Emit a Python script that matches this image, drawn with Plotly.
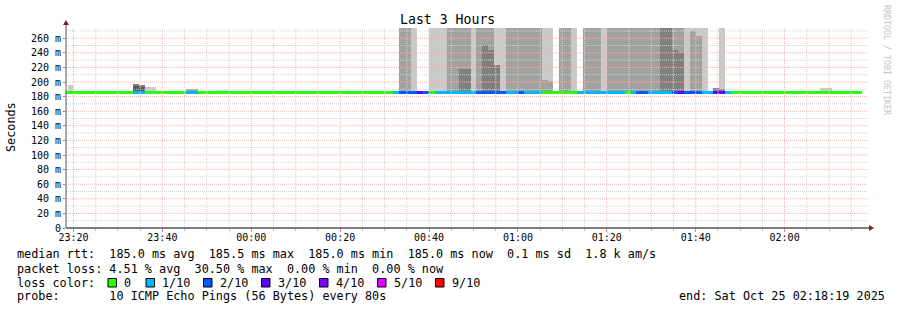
import plotly.graph_objects as go
import pandas as pd

# ---------------- data ----------------
# step index k = number of 80 s RRD steps after 2025-10-25 00:00:00 (step k covers [t_k, t_k + 80 s])
DAY0 = pd.Timestamp("2025-10-25 00:00:00")
STEP_SECONDS = 80
X_START = pd.Timestamp("2025-10-24 23:18:19")
X_END = pd.Timestamp("2025-10-25 02:18:19")

TITLE = "Last 3 Hours"
Y_LABEL = "Seconds"
Y_MAX = 274.0
Y_TICKS = [0, 20, 40, 60, 80, 100, 120, 140, 160, 180, 200, 220, 240, 260]
Y_TICK_TEXT = ["0", "20 m", "40 m", "60 m", "80 m", "100 m", "120 m", "140 m",
               "160 m", "180 m", "200 m", "220 m", "240 m", "260 m"]

MEDIAN_MS = 185.0
SMOKE_BASE_MS = 185.0
FULL = 300.0  # smoke column that reaches past the top of the chart

# loss (pings lost out of 10) per step, steps k = -32 ... 102
LOSS_FIRST_STEP = -32
LOSS = [
    0, 0, 0, 0, 0, 0, 0, 0, 0, 0, 0, 0,            # -32 .. -21
    1, 1,                                          # -20 .. -19
    0, 0, 0, 0, 0, 0, 0,                           # -18 .. -12
    1, 1,                                          # -11 .. -10
    0, 0, 0, 0, 0, 0, 0, 0, 0, 0, 0,               # -9 .. 1
    0, 0, 0, 0, 0, 0, 0, 0, 0, 0, 0,               # 2 .. 12
    0, 0, 0, 0, 0, 0, 0, 0, 0, 0, 0,               # 13 .. 23
    1, 2, 2, 2, 3, 2, 0,                           # 24 .. 30
    1, 1, 1, 1, 1, 1, 1,                           # 31 .. 37
    2, 2, 2, 2, 2,                                 # 38 .. 42
    1, 1, 2, 1, 1, 1,                              # 43 .. 48
    0, 0, 0, 0, 0, 0,                              # 49 .. 54
    1, 1, 1, 1, 1, 1, 1, 1,                        # 55 .. 62
    0, 1, 2, 2, 1, 1, 1, 1, 2, 3, 2, 2, 2, 1, 1, 3, 3, 1,   # 63 .. 80
    0, 0, 0, 0, 0, 0, 0, 0, 0, 0, 0,               # 81 .. 91
    0, 0, 0, 0, 0, 0, 0, 0, 0, 0, 0,               # 92 .. 102
]

# smoke layers (step index, top of layer in ms)
SMOKE_LIGHTEST_STEPS = [-6, -5]
SMOKE_LIGHTEST_TOPS = [189.5, 189.5]
SMOKE_LIGHT_STEPS = [-31, -18, -17, 27, 30, 31, 32, 37, 41, 42, 49, 50, 54, 59,
                     73, 74, 75, 76, 79, 96, 97]
SMOKE_LIGHT_TOPS = [195.5, 193.0, 193.0, FULL, FULL, FULL, FULL, FULL, FULL, FULL,
                    FULL, FULL, FULL, FULL, FULL, FULL, FULL, FULL, FULL, 192.0, 192.0]
SMOKE_MID_STEPS = [-11, -10, 25, 26, 33, 34, 35, 36, 38, 39, 40, 43, 44, 45, 46, 47, 48,
                   49, 50, 52, 53, 56, 57, 58, 60, 61, 62, 63, 64, 65, 66, 67, 68,
                   71, 72, 74, 75]
SMOKE_MID_TOPS = [191.0, 191.0, FULL, FULL, FULL, FULL, FULL, FULL, FULL, FULL, FULL,
                  FULL, FULL, FULL, FULL, FULL, FULL, 203.0, 201.5, FULL, FULL,
                  FULL, FULL, FULL, FULL, FULL, FULL, FULL, FULL, FULL, FULL, FULL, FULL,
                  FULL, FULL, 270.0, 263.0]
SMOKE_DARK_STEPS = [-20, -19, 35, 36, 39, 40, 41, 69, 70, 71, 72, 78, 79]
SMOKE_DARK_TOPS = [197.7, 196.0, 218.0, 218.0, 251.0, 244.0, 223.5, FULL, FULL,
                   244.0, 239.5, 192.0, 191.0]
SMOKE_DARKEST_STEPS = [-20, -19]
SMOKE_DARKEST_TOPS = [194.5, 193.0]

LOSS_LABELS = ["0", "1/10", "2/10", "3/10", "4/10", "5/10", "9/10"]
LOSS_LEVELS = [0, 1, 2, 3, 4, 5, 9]
LOSS_COLORS = ["#26ff00", "#00b8ff", "#0059ff", "#5e00ff", "#7e00ff", "#dd00ff", "#ff0000"]

STATS_RTT = "median rtt:  185.0 ms avg  185.5 ms max  185.0 ms min  185.0 ms now  0.1 ms sd  1.8 k am/s"
STATS_LOSS = "packet loss: 4.51 % avg  30.50 % max  0.00 % min  0.00 % now"
LEGEND_HEAD = "loss color:"
PROBE_TEXT = "probe:       10 ICMP Echo Pings (56 Bytes) every 80s"
END_TEXT = "end: Sat Oct 25 02:18:19 2025"
WATERMARK = "RRDTOOL / TOBI OETIKER"

# ---------------- styling / layout constants ----------------
W, H = 897, 310
PL, PR, PT, PB = 66, 866, 28, 228       # plot area in pixels
MONO = "DejaVu Sans Mono"
TXT = 11.8
LINE_MS = 4.1          # 3 px thick median line
LINE_SHIFT_MS = 1.0
RED_GRID = "#f6b4b4"
GRAY_GRID = "#d2d2d2"
DOT = "1px,1px"
ARROW = "#8b1c1c"


def px(x):
    return (x - PL) / (PR - PL)


def py(y):
    return (PB - y) / (PB - PT)


def step_center(k):
    return DAY0 + pd.Timedelta(seconds=STEP_SECONDS * (k + 0.5))


def loss_color(n):
    idx = 0
    for i, lv in enumerate(LOSS_LEVELS):
        if n >= lv:
            idx = i
    return LOSS_COLORS[idx]


fig = go.Figure()

layers = [
    (SMOKE_LIGHTEST_STEPS, SMOKE_LIGHTEST_TOPS, "#dedede"),
    (SMOKE_LIGHT_STEPS, SMOKE_LIGHT_TOPS, "#c9c9c9"),
    (SMOKE_MID_STEPS, SMOKE_MID_TOPS, "#a1a1a1"),
    (SMOKE_DARK_STEPS, SMOKE_DARK_TOPS, "#7f7f7f"),
    (SMOKE_DARKEST_STEPS, SMOKE_DARKEST_TOPS, "#575757"),
]
for steps, tops, col in layers:
    fig.add_trace(go.Bar(
        x=[step_center(k) for k in steps],
        y=[t - SMOKE_BASE_MS for t in tops],
        base=SMOKE_BASE_MS,
        width=STEP_SECONDS * 1000,
        marker=dict(color=col, line=dict(width=0)),
        hoverinfo="skip", showlegend=False,
    ))

steps_all = [LOSS_FIRST_STEP + i for i in range(len(LOSS))]
fig.add_trace(go.Bar(
    x=[step_center(k) for k in steps_all],
    y=[LINE_MS] * len(steps_all),
    base=MEDIAN_MS + LINE_SHIFT_MS - LINE_MS / 2,
    width=STEP_SECONDS * 1000,
    marker=dict(color=[loss_color(n) for n in LOSS], line=dict(width=0)),
    hoverinfo="skip", showlegend=False,
))

shapes = []
# vertical grid (every 5 min, major every 20 min), drawn above the smoke
t = pd.Timestamp("2025-10-24 23:20:00")
while t <= X_END:
    major = t.minute % 20 == 0
    shapes.append(dict(type="line", xref="x", yref="paper", x0=t, x1=t, y0=0, y1=1,
                       layer="above",
                       line=dict(color=RED_GRID if major else GRAY_GRID, width=1, dash=DOT)))
    t += pd.Timedelta(minutes=5)
# horizontal grid (every 10 ms, major every 20 ms)
for v in range(10, int(Y_MAX) + 1, 10):
    major = v % 20 == 0
    shapes.append(dict(type="line", xref="paper", yref="y", x0=0, x1=px(PR + 2), y0=v, y1=v,
                       layer="above",
                       line=dict(color=RED_GRID if major else GRAY_GRID, width=1, dash=DOT)))

# axes with arrows
shapes.append(dict(type="line", xref="paper", yref="paper", x0=0, x1=px(PR + 4), y0=0, y1=0,
                   layer="above", line=dict(color="#000000", width=1)))
shapes.append(dict(type="line", xref="paper", yref="paper", x0=0, x1=0, y0=0, y1=py(PT - 5),
                   layer="above", line=dict(color="#555555", width=1)))
shapes.append(dict(type="path", xref="paper", yref="paper", xsizemode="pixel", ysizemode="pixel",
                   xanchor=0, yanchor=1, path="M -3,3 L 3,3 L 0,8 Z",
                   fillcolor=ARROW, line=dict(width=0), layer="above"))
shapes.append(dict(type="path", xref="paper", yref="paper", xsizemode="pixel", ysizemode="pixel",
                   xanchor=1, yanchor=0, path="M 3,-3 L 3,3 L 8,0 Z",
                   fillcolor=ARROW, line=dict(width=0), layer="above"))

annotations = []


def text(x, y, s, size=TXT, color="#000000", anchor="left", angle=0):
    annotations.append(dict(xref="paper", yref="paper", x=px(x), y=py(y), text=s,
                            showarrow=False, xanchor=anchor, yanchor="middle",
                            textangle=angle, borderpad=0,
                            font=dict(family=MONO, size=size, color=color)))


text(447.5, 19, TITLE, size=13.2, anchor="center")
text(11, 127, Y_LABEL, angle=-90, anchor="center")
text(887, 60, WATERMARK, size=8.3, color="#c4c4c4", anchor="center", angle=90)
text(16, 254.3, STATS_RTT.replace(" ", "&nbsp;"))
text(16, 268.5, STATS_LOSS.replace(" ", "&nbsp;"))
text(16, 282.5, LEGEND_HEAD.replace(" ", "&nbsp;"))
text(16, 296.3, PROBE_TEXT.replace(" ", "&nbsp;"))
text(678, 296.3, END_TEXT.replace(" ", "&nbsp;"))

LEGEND_BOX_X = [108, 146, 203.5, 261.5, 319.5, 377.5, 435.5]
for bx, lab, col in zip(LEGEND_BOX_X, LOSS_LABELS, LOSS_COLORS):
    shapes.append(dict(type="rect", xref="paper", yref="paper",
                       x0=px(bx), x1=px(bx + 8.5), y0=py(287), y1=py(278.5),
                       fillcolor=col, line=dict(color="#000000", width=1)))
    text(bx + 15, 282.5, lab)

fig.update_layout(
    width=W, height=H,
    margin=dict(l=PL, r=W - PR, t=PT, b=H - PB, pad=0),
    paper_bgcolor="#ffffff", plot_bgcolor="#ffffff",
    barmode="overlay", bargap=0,
    showlegend=False,
    shapes=shapes, annotations=annotations,
    font=dict(family=MONO, size=10, color="#000000"),
)
fig.update_xaxes(
    type="date", range=[X_START, X_END],
    tick0="2025-10-24 23:20:00", dtick=20 * 60 * 1000, tickformat="%H:%M",
    showgrid=False, zeroline=False, showline=False,
    ticks="outside", ticklen=3, tickcolor="#e08080", tickwidth=1,
    ticklabelstandoff=-3,
    tickfont=dict(family=MONO, size=10, color="#000000"),
    minor=dict(dtick=5 * 60 * 1000, tick0="2025-10-24 23:20:00", ticks="outside",
               ticklen=2, tickcolor="#c0c0c0", showgrid=False),
    fixedrange=True,
)
fig.update_yaxes(
    range=[0, Y_MAX], tickvals=Y_TICKS, ticktext=Y_TICK_TEXT,
    showgrid=False, zeroline=False, showline=False,
    ticks="outside", ticklen=2, tickcolor="#808080",
    tickfont=dict(family=MONO, size=10, color="#000000"),
    fixedrange=True,
)

fig.write_html("out.html")
